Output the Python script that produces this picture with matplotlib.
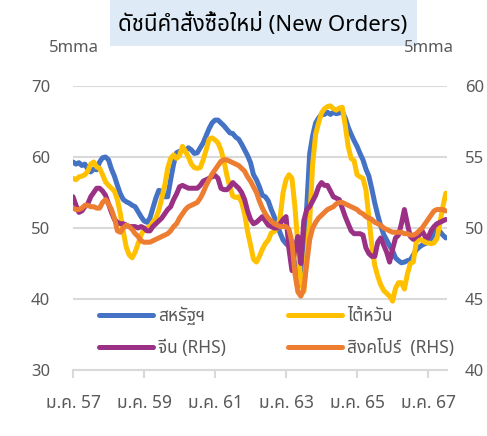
import matplotlib
matplotlib.use("Agg")
import matplotlib.pyplot as plt
from matplotlib import font_manager
from matplotlib.patches import Rectangle
from matplotlib.lines import Line2D

# ---------------- data ----------------
tick_labels = ["ม.ค. 57", "ม.ค. 59", "ม.ค. 61", "ม.ค. 63", "ม.ค. 65", "ม.ค. 67"]
tick_months = [0, 24, 48, 72, 96, 120]

us = [59.3, 59.0, 59.2, 58.8, 59.0, 58.3, 57.9, 58.3, 58.2, 59.3,
      59.9, 60.0, 59.6, 58.3, 57.3, 56.0, 54.8, 54.0, 53.7, 53.5,
      53.2, 53.0, 52.3, 51.6, 51.0, 50.8, 51.4, 52.8, 54.2, 55.3,
      55.2, 54.4, 54.4, 56.8, 59.0, 60.6, 60.8, 61.0, 60.9, 61.3,
      61.0, 60.5, 60.6, 61.3, 62.0, 63.0, 64.0, 64.8, 65.2, 65.2,
      64.8, 64.4, 63.9, 63.4, 63.3, 62.8, 62.5, 61.8, 61.0, 60.2,
      59.2, 57.5, 56.8, 55.8, 54.6, 54.4, 53.8, 52.6, 51.6, 50.5,
      49.3, 48.3, 47.8, 47.4, 46.8, 45.0, 43.7, 41.9, 45.0, 53.0,
      60.5, 63.0, 64.8, 65.5, 66.0, 66.0, 66.3, 66.0, 66.3, 66.1,
      66.2, 66.4, 65.5, 64.2, 63.2, 62.3, 61.5, 60.5, 59.6, 58.3,
      57.3, 55.5, 53.5, 51.8, 50.3, 49.1, 48.3, 47.5, 46.8, 45.8,
      45.4, 45.1, 45.2, 45.4, 45.5, 46.2, 46.9, 47.3, 47.6, 47.8,
      48.0, 48.5, 49.2, 49.7, 49.5, 49.0, 48.6]

taiwan = [57.0, 56.8, 57.2, 57.3, 57.5, 58.0, 59.0, 59.3, 58.6, 58.4,
          57.5, 56.5, 56.0, 55.6, 55.2, 54.0, 52.0, 49.5, 47.3, 46.2,
          45.8, 46.6, 47.8, 49.0, 49.8, 50.0, 50.2, 50.8, 51.4, 52.5,
          54.2, 56.0, 58.4, 59.8, 60.3, 59.8, 60.2, 61.5, 60.8, 60.0,
          59.0, 58.5, 58.4, 58.5, 59.6, 61.0, 62.5, 62.7, 62.4, 62.0,
          61.0, 59.5, 57.4, 55.8, 54.5, 54.3, 54.4, 53.6, 52.0, 49.5,
          47.6, 45.6, 45.2, 46.0, 47.0, 47.8, 48.3, 49.3, 49.5, 50.0,
          51.5, 55.0, 56.8, 57.5, 57.0, 53.0, 47.5, 42.5, 41.0, 46.0,
          51.0, 59.0, 63.2, 64.8, 66.2, 66.8, 67.1, 67.2, 66.8, 66.6,
          66.9, 67.0, 64.5, 61.5, 59.8, 59.5, 57.5, 57.2, 57.0, 55.4,
          51.5, 47.5, 44.7, 43.2, 42.0, 41.2, 40.8, 40.4, 39.7, 41.5,
          42.3, 42.3, 41.4, 43.5, 45.0, 45.2, 48.0, 48.4, 48.3, 48.0,
          47.9, 47.8, 47.9, 48.5, 50.7, 53.0, 54.9]

china = [52.2, 51.6, 51.1, 51.2, 51.5, 51.7, 52.2, 52.5, 52.8, 52.8,
         52.6, 52.3, 51.7, 51.1, 50.6, 50.4, 50.3, 50.3, 50.2, 50.1,
         50.1, 50.1, 50.0, 50.1, 50.0, 49.8, 49.8, 50.1, 50.3, 50.5,
         50.7, 51.0, 51.3, 51.5, 52.0, 52.4, 52.9, 53.0, 52.9, 52.8,
         52.8, 52.8, 52.8, 53.0, 53.3, 53.4, 53.5, 53.6, 53.7, 53.5,
         52.8, 52.7, 52.7, 52.9, 53.2, 53.0, 52.8, 52.5, 52.0, 51.2,
         50.6, 50.3, 50.4, 50.6, 50.8, 50.5, 50.2, 50.1, 50.0, 50.0,
         50.3, 50.6, 50.8, 48.5, 47.0, 48.6, 49.4, 47.5, 50.5, 51.3,
         51.5, 51.9, 52.3, 52.9, 53.2, 53.0, 53.0, 52.6, 52.2, 52.1,
         52.0, 51.4, 50.8, 50.3, 49.8, 49.6, 49.6, 49.6, 49.5, 48.6,
         48.2, 48.0, 48.0, 49.0, 49.3, 48.8, 48.3, 47.6, 48.5, 49.3,
         49.5, 50.3, 51.3, 50.3, 49.4, 49.2, 49.4, 49.5, 49.8, 49.4,
         49.3, 49.8, 50.1, 50.3, 50.4, 50.5, 50.6]

singapore = [51.4, 51.3, 51.3, 51.4, 51.6, 51.6, 51.5, 51.5, 51.4, 51.4,
             51.8, 52.0, 51.7, 51.3, 50.7, 49.8, 49.7, 50.0, 50.2, 50.1,
             49.9, 49.6, 49.4, 49.1, 49.0, 49.0, 49.0, 49.1, 49.2, 49.3,
             49.4, 49.5, 49.6, 49.8, 50.1, 50.3, 50.7, 51.0, 51.3, 51.5,
             51.6, 51.7, 51.8, 52.1, 52.5, 53.0, 53.4, 53.8, 54.1, 54.4,
             54.7, 54.8, 54.8, 54.7, 54.6, 54.5, 54.4, 54.2, 54.0, 53.6,
             53.3, 52.9, 52.5, 51.9, 51.4, 51.0, 50.7, 50.5, 50.3, 50.2,
             50.1, 50.1, 50.1, 49.9, 49.0, 46.8, 45.5, 45.2, 45.7, 47.5,
             49.2, 50.0, 50.4, 50.7, 50.9, 51.1, 51.3, 51.4, 51.5, 51.7,
             51.8, 51.8, 51.7, 51.6, 51.5, 51.4, 51.3, 51.1, 51.0, 50.8,
             50.7, 50.6, 50.4, 50.3, 50.2, 50.0, 49.9, 49.8, 49.7, 49.7,
             49.7, 49.7, 49.6, 49.6, 49.5, 49.5, 49.6, 49.8, 50.0, 50.3,
             50.6, 50.9, 51.2, 51.3, 51.3, 51.3, 51.2]

labels = ["สหรัฐฯ", "ไต้หวัน", "จีน (RHS)", "สิงคโปร์  (RHS)"]
colors = ["#4472C4", "#FFC000", "#9B3185", "#ED7D31"]

# ---------------- fonts ----------------
available = {f.name for f in font_manager.fontManager.ttflist}
thai = None
for cand in ["Noto Sans Thai", "Noto Sans Thai Looped", "Sarabun", "IBM Plex Sans Thai",
             "Anuphan", "Bai Jamjuree", "Niramit", "Trirong"]:
    if cand in available:
        thai = cand
        break
fam = [thai, "DejaVu Sans"] if thai else ["DejaVu Sans"]
plt.rcParams["font.family"] = fam

txt = "#595959"
grid = "#D9D9D9"
fs = 12.5
lw = 3.6

fig = plt.figure(figsize=(4.87, 4.36), dpi=100)
ax = fig.add_axes([73 / 487, 1 - 370 / 436, 374 / 487, 284 / 436])
ax2 = ax.twinx()

x = list(range(len(us)))
kw = dict(lw=lw, solid_joinstyle="round", solid_capstyle="round")
ax.plot(x, us, color=colors[0], **kw)
ax.plot(x, taiwan, color=colors[1], **kw)
ax2.plot(x, china, color=colors[2], **kw)
ax2.plot(x, singapore, color=colors[3], **kw)

ax.set_xlim(0, 126.4)
ax.set_ylim(30, 70)
ax2.set_ylim(40, 60)
ax.set_yticks([30, 40, 50, 60, 70])
ax2.set_yticks([40, 45, 50, 55, 60])
ax.yaxis.grid(True, color=grid, lw=1.5)
ax.set_axisbelow(True)

for a in (ax, ax2):
    for s in ("top", "left", "right"):
        a.spines[s].set_visible(False)
    a.spines["bottom"].set_color(grid)
    a.spines["bottom"].set_linewidth(1.5)
ax2.spines["bottom"].set_visible(False)

ax.tick_params(axis="y", length=0, pad=16.5, labelsize=12, labelcolor=txt)
ax2.tick_params(axis="y", length=0, pad=13.0, labelsize=12, labelcolor=txt)
ax.set_xticks(tick_months)
ax.set_xticklabels(tick_labels)
ax.tick_params(axis="x", length=6, width=1.5, color=grid, pad=11, labelsize=fs, labelcolor=txt)

# title box
fig.patches.append(Rectangle((110 / 487, 1 - 46 / 436), 307 / 487, 46 / 436,
                             transform=fig.transFigure, facecolor="#DEEBF7", edgecolor="none"))
fig.text(263 / 487, 1 - 24 / 436, "ดัชนีคำสั่งซื้อใหม่ (New Orders)", ha="center", va="center",
         fontsize=16, color="#000000")
fig.text(74 / 487, 1 - 48 / 436, "5mma", ha="center", va="center", fontsize=12, color=txt)
fig.text(429 / 487, 1 - 48 / 436, "5mma", ha="center", va="center", fontsize=12, color=txt)

handles = [Line2D([], [], color=c, lw=lw, solid_capstyle="round") for c in colors]
order = [0, 2, 1, 3]
leg = ax.legend([handles[i] for i in order], [labels[i] for i in order], ncol=2,
                loc="upper left", bbox_to_anchor=(26 / 374, (370 - 307) / 284),
                frameon=False, fontsize=fs, labelcolor=txt, handlelength=3.1,
                handletextpad=0.3, columnspacing=3.6, labelspacing=0.77,
                borderaxespad=0, borderpad=0)
leg.set_zorder(10)

fig.savefig("out.png", dpi=100)
